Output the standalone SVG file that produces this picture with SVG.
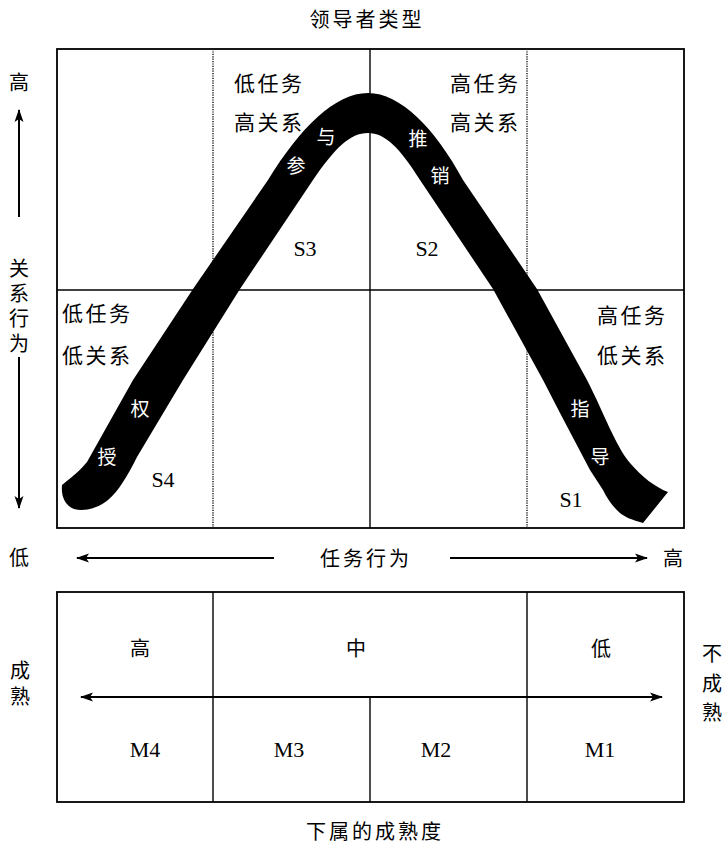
<svg xmlns="http://www.w3.org/2000/svg" width="726" height="847" viewBox="0 0 726 847">
<style>
.cjk{font-family:"Noto Sans CJK SC","Noto Sans",sans-serif;font-size:20px;fill:#000;dominant-baseline:central}
.mid{text-anchor:middle}
.vert{writing-mode:vertical-rl;text-anchor:middle}
.lab{font-size:21px;letter-spacing:2.5px}
.w{fill:#fff;font-size:19px}
.lat{font-family:"Liberation Serif","Times New Roman",serif;font-size:22px;fill:#000;text-anchor:middle}
.box{fill:none;stroke:#000;stroke-width:1.8}
.ln{stroke:#000;stroke-width:1.4;fill:none}
.dot{stroke:#222;stroke-width:1.5;stroke-dasharray:1.2 1.2;fill:none}
.arr{stroke:#000;stroke-width:2;fill:none}
</style>
<defs>
<marker id="ah" markerUnits="userSpaceOnUse" markerWidth="14" markerHeight="10" refX="12" refY="5" orient="auto-start-reverse" viewBox="0 0 14 10">
<path d="M0,0.5 L13,5 L0,9.5 L3,5 z" fill="#000"/>
</marker>
</defs>
<rect width="726" height="847" fill="#fff"/>

<g id="title-top"><text class="cjk mid" x="367" y="18" style="letter-spacing:3px">领导者类型</text></g>

<g id="top-grid">
<rect class="box" x="57" y="49" width="627" height="479"/>
<line class="ln" x1="57" y1="290" x2="684" y2="290"/>
<line class="ln" x1="370" y1="49" x2="370" y2="528"/>
<line class="dot" x1="213" y1="49" x2="213" y2="528"/>
<line class="dot" x1="527" y1="49" x2="527" y2="528"/>
</g>

<g id="curve">
<path fill="#000" d="M62,485 C68,480 80,471 87,462 L133,380 L193,289 L268,180 C300,128 335,93 368,93 C400,93 435,128 463,180 L537,289 L587,380 C605,415 615,445 630,463 C642,477 655,487 668,492 L643,523 C632,520 625,517 620,513 C612,506 607,498 603,490 L590,470 L560,413 L543,380 L493,289 L420,180 C400,148 385,133 368,133 C350,133 335,148 313,180 L240,289 L183,380 L137,457 C128,475 118,492 108,500 C98,508 85,512 74,509 C64,505 61,495 62,485 Z"/>
<text class="cjk w mid" x="296" y="164">参</text>
<text class="cjk w mid" x="326" y="135">与</text>
<text class="cjk w mid" x="418" y="137">推</text>
<text class="cjk w mid" x="440" y="174">销</text>
<text class="cjk w mid" x="140" y="407">权</text>
<text class="cjk w mid" x="107" y="455">授</text>
<text class="cjk w mid" x="580" y="407">指</text>
<text class="cjk w mid" x="600" y="455">导</text>
</g>

<g id="quadrant-S3">
<text class="cjk lab" x="234" y="82">低任务</text>
<text class="cjk lab" x="234" y="121">高关系</text>
<text class="lat" x="305" y="256">S3</text>
</g>
<g id="quadrant-S2">
<text class="cjk lab" x="450" y="82">高任务</text>
<text class="cjk lab" x="450" y="121">高关系</text>
<text class="lat" x="427" y="256">S2</text>
</g>
<g id="quadrant-S4">
<text class="cjk lab" x="62" y="312">低任务</text>
<text class="cjk lab" x="62" y="354">低关系</text>
<text class="lat" x="163" y="487">S4</text>
</g>
<g id="quadrant-S1">
<text class="cjk lab" x="597" y="314">高任务</text>
<text class="cjk lab" x="597" y="354">低关系</text>
<text class="lat" x="571" y="507">S1</text>
</g>

<g id="connectors">
<line class="arr" x1="19" y1="217" x2="19" y2="110" marker-end="url(#ah)"/>
<line class="arr" x1="19" y1="357" x2="19" y2="508" marker-end="url(#ah)"/>
<line class="arr" x1="274" y1="558" x2="77" y2="558" marker-end="url(#ah)"/>
<line class="arr" x1="450" y1="558" x2="647" y2="558" marker-end="url(#ah)"/>
<line class="arr" x1="81" y1="697" x2="662" y2="697" marker-start="url(#ah)" marker-end="url(#ah)"/>
</g>

<g id="axis-relationship">
<text class="cjk mid" x="19" y="81">高</text>
<text class="cjk vert" x="19" y="308" style="letter-spacing:5px">关系行为</text>
<text class="cjk mid" x="19" y="556">低</text>
</g>

<g id="axis-task">
<text class="cjk mid" x="366" y="557" style="letter-spacing:3px">任务行为</text>
<text class="cjk mid" x="673" y="557">高</text>
</g>

<g id="maturity-grid">
<rect class="box" x="57" y="592" width="627" height="210"/>
<line class="ln" x1="213" y1="592" x2="213" y2="802"/>
<line class="ln" x1="527" y1="592" x2="527" y2="802"/>
<line class="ln" x1="370" y1="697" x2="370" y2="802"/>
<text class="cjk mid" x="140" y="647">高</text>
<text class="cjk mid" x="356" y="647">中</text>
<text class="cjk mid" x="601" y="647">低</text>
<text class="lat" x="145" y="757">M4</text>
<text class="lat" x="289" y="757">M3</text>
<text class="lat" x="436" y="757">M2</text>
<text class="lat" x="600" y="757">M1</text>
</g>

<g id="maturity-labels">
<text class="cjk vert" x="20" y="686" style="letter-spacing:6px">成熟</text>
<text class="cjk vert" x="712" y="688" style="letter-spacing:9.5px">不成熟</text>
</g>

<g id="title-bottom"><text class="cjk mid" x="375" y="830" style="letter-spacing:3px">下属的成熟度</text></g>
</svg>
